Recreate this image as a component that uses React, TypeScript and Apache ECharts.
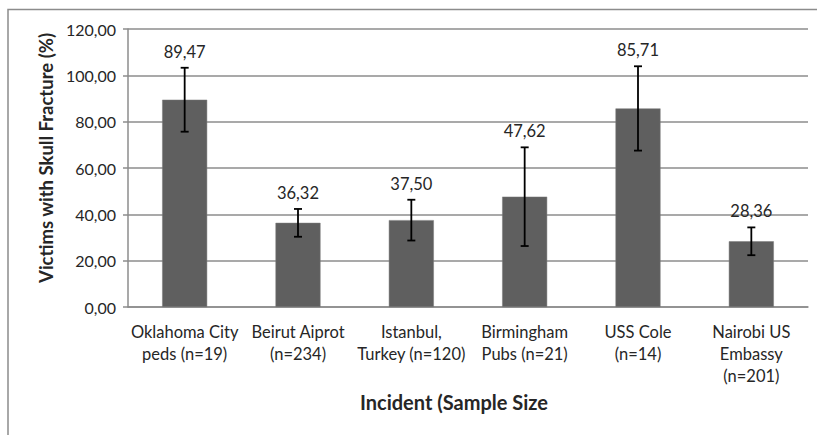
import React, { useEffect, useRef } from "react";
import * as echarts from "echarts";

const categories = [
  "Oklahoma City\npeds (n=19)",
  "Beirut Aiprot\n(n=234)",
  "Istanbul,\nTurkey (n=120)",
  "Birmingham\nPubs (n=21)",
  "USS Cole\n(n=14)",
  "Nairobi US\nEmbassy\n(n=201)",
];
const values = [89.47, 36.32, 37.5, 47.62, 85.71, 28.36];
const errors = [13.8, 6.0, 8.8, 21.3, 18.2, 6.0];
const yTicks = { min: 0, max: 120, interval: 20 };
const yTitle = "Victims with Skull Fracture (%)";
const xTitle = "Incident (Sample Size";

const fmt = (v: number) => v.toFixed(2).replace(".", ",");
const FONT = "Lato, 'Open Sans', sans-serif";

export default function App() {
  const ref = useRef<HTMLDivElement>(null);
  useEffect(() => {
    if (!ref.current) return;
    const chart = echarts.init(ref.current, undefined, { renderer: "svg" });
    const errData = values.map((v, i) => [i, v - errors[i], v + errors[i], v]);
    chart.setOption({
      animation: false,
      backgroundColor: "#ffffff",
      textStyle: { fontFamily: FONT },
      grid: { left: 128, right: 9, top: 29, bottom: 128, containLabel: false },
      graphic: [
        {
          type: "polyline",
          shape: { points: [[8, 440], [8, 9.5], [830, 9.5]] },
          style: { stroke: "#8c8c8c", lineWidth: 1.5, fill: null },
          silent: true,
        },
      ],
      xAxis: {
        type: "category",
        data: categories,
        axisLine: { lineStyle: { color: "#8c8c8c", width: 1.5 } },
        axisTick: { show: false },
        axisLabel: {
          color: "#262626",
          fontSize: 16.5,
          lineHeight: 22,
          margin: 14,
          interval: 0,
          fontFamily: FONT,
        },
        name: xTitle,
        nameLocation: "middle",
        nameGap: 74,
        nameTextStyle: {
          fontSize: 20,
          fontWeight: "bold",
          color: "#262626",
          fontFamily: FONT,
          padding: [0, 28, 0, 0],
        },
      },
      yAxis: {
        type: "value",
        min: yTicks.min,
        max: yTicks.max,
        interval: yTicks.interval,
        axisLine: { show: true, lineStyle: { color: "#8c8c8c", width: 1.5 } },
        axisTick: { show: true, length: 5, lineStyle: { color: "#8c8c8c", width: 1.5 } },
        splitLine: { lineStyle: { color: "#8c8c8c", width: 1.5 } },
        axisLabel: {
          color: "#262626",
          fontSize: 16,
          margin: 12,
          fontFamily: FONT,
          formatter: (v: number) => fmt(v),
        },
        name: yTitle,
        nameLocation: "middle",
        nameGap: 72,
        nameTextStyle: {
          fontSize: 18.5,
          fontWeight: "bold",
          color: "#262626",
          fontFamily: FONT,
          padding: [0, 0, 0, 20],
        },
      },
      series: [
        {
          type: "bar",
          data: values,
          barWidth: 45,
          itemStyle: { color: "#5f5f5f", borderColor: "#7a7a7a", borderWidth: 0.5 },
          z: 2,
        },
        {
          type: "custom",
          data: errData,
          z: 3,
          renderItem: (params: any, api: any) => {
            const x = api.coord([api.value(0), 0])[0];
            const lo = api.coord([api.value(0), api.value(1)])[1];
            const hi = api.coord([api.value(0), api.value(2)])[1];
            const mean = api.value(3);
            const cap = 4;
            const st = { stroke: "#000", lineWidth: 1.8 };
            return {
              type: "group",
              children: [
                { type: "line", shape: { x1: x, y1: lo, x2: x, y2: hi }, style: st },
                { type: "line", shape: { x1: x - cap, y1: lo, x2: x + cap, y2: lo }, style: st },
                { type: "line", shape: { x1: x - cap, y1: hi, x2: x + cap, y2: hi }, style: st },
                {
                  type: "text",
                  x: x,
                  y: hi - 16,
                  style: {
                    text: fmt(mean),
                    fill: "#262626",
                    font: `16.5px ${FONT}`,
                    align: "center",
                    verticalAlign: "middle",
                  },
                },
              ],
            };
          },
        },
      ],
    });
    return () => chart.dispose();
  }, []);
  return (
    <div
      ref={ref}
      style={{ position: "fixed", left: 0, top: 0, width: 817, height: 435 }}
    />
  );
}
